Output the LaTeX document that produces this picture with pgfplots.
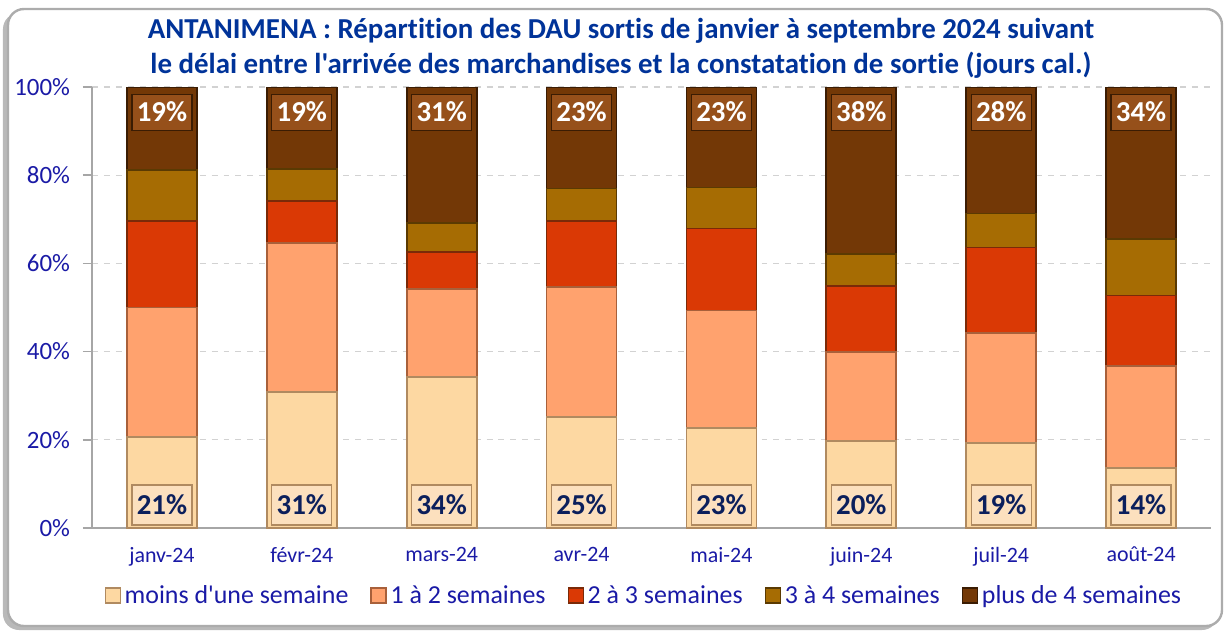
\documentclass[border=0pt]{standalone}
\usepackage{pgfplots}
\pgfplotsset{compat=1.18}
\usepackage{pgfplotstable}
\usepackage{fontspec}
\setmainfont{Carlito}[Ligatures={TeXOff,CommonOff}]
\definecolor{cA}{HTML}{FDD8A2}
\definecolor{cAd}{HTML}{B08A60}
\definecolor{cB}{HTML}{FFA26E}
\definecolor{cBd}{HTML}{A8603A}
\definecolor{cC}{HTML}{DA3905}
\definecolor{cCd}{HTML}{7A2A08}
\definecolor{cD}{HTML}{A66C03}
\definecolor{cDd}{HTML}{5A3A02}
\definecolor{cE}{HTML}{733806}
\definecolor{cEd}{HTML}{3A1C03}
\definecolor{titleblue}{HTML}{003399}
\definecolor{tickblue}{HTML}{1A1AA6}
\definecolor{navy}{HTML}{0B1F5C}
\definecolor{topbox}{HTML}{96501A}
\definecolor{botbox}{HTML}{FCE0BE}
\pgfplotstableread{
x  s1   s2   s3   s4   s5
0  20.6 29.4 19.7 11.4 18.9
1  30.9 33.7 9.6  7.2  18.6
2  34.2 20.0 8.4  6.5  30.9
3  25.1 29.5 15.1 7.3  23.0
4  22.6 26.7 18.6 9.3  22.8
5  19.8 20.2 14.8 7.3  37.9
6  19.3 24.9 19.4 7.7  28.7
7  13.6 23.2 15.9 12.8 34.5
}\datatable
\pgfplotstableread{
x  y    lab
0  94.3 19
1  94.3 19
2  94.3 31
3  94.3 23
4  94.3 23
5  94.3 38
6  94.3 28
7  94.3 34
}\toplabels
\pgfplotstableread{
x  y   lab
0  5.2 21
1  5.2 31
2  5.2 34
3  5.2 25
4  5.2 23
5  5.2 20
6  5.2 19
7  5.2 14
}\botlabels
\begin{document}
\begin{tikzpicture}[x=1bp,y=1bp]
\useasboundingbox (-46,-52.5) rectangle (568.5,264);
\fill[gray!55, rounded corners=8bp] (-44.5,-51) rectangle (563,257.5);
\filldraw[fill=white, draw=gray!65, line width=1.2bp, rounded corners=8bp] (-42,-49) rectangle (565,259.5);
\node[font=\fontsize{14.5}{17.5}\selectfont\bfseries, text=titleblue, align=center] at (264.5,240)
  {ANTANIMENA : Répartition des DAU sortis de janvier à septembre 2024 suivant\\le délai entre l'arrivée des marchandises et la constatation de sortie (jours cal.)};
\begin{axis}[
  at={(0,0)}, anchor=south west,
  scale only axis, width=559.5bp, height=220.5bp,
  ybar stacked, bar width=35bp,
  xmin=-0.5, xmax=7.5, ymin=0, ymax=100,
  axis lines*=left,
  axis line style={gray!70, line width=0.8bp},
  tick align=outside,
  major tick length=4.5bp,
  tick style={gray!70, line width=0.8bp},
  ytick={0,20,40,60,80,100},
  yticklabel={\pgfmathprintnumber[assume math mode=true]{\tick}\%},
  yticklabel style={font=\fontsize{12.5}{14}\selectfont, text=tickblue, xshift=-3bp},
  ymajorgrids,
  grid style={dashed, gray!35, line width=0.6bp},
  xtick={0,...,7},
  xticklabels={janv-24,févr-24,mars-24,avr-24,mai-24,juin-24,juil-24,août-24},
  xtick style={draw=none},
  xticklabel style={font=\fontsize{11}{13}\selectfont, text=tickblue, yshift=-1.5bp},
  extra x ticks={-0.5,0.5,...,7.5},
  extra x tick labels={},
  extra x tick style={tick style={gray!70, line width=0.8bp}, major tick length=4.5bp},
  legend columns=5,
  legend style={at={(0.494,-0.154)}, anchor=center, draw=none, fill=none,
    font=\fontsize{13}{15}\selectfont, text=tickblue,
    /tikz/every even column/.append style={column sep=9bp}},
  legend image code/.code={\filldraw[#1, line width=0.6bp] (0bp,-3.5bp) rectangle (7.5bp,4bp);},
]
\addplot[fill=cA, draw=cAd, line width=0.9bp] table[x=x, y=s1] {\datatable};
\addlegendentry{moins d'une semaine}
\addplot[fill=cB, draw=cBd, line width=0.9bp] table[x=x, y=s2] {\datatable};
\addlegendentry{1 à 2 semaines}
\addplot[fill=cC, draw=cCd, line width=0.9bp] table[x=x, y=s3] {\datatable};
\addlegendentry{2 à 3 semaines}
\addplot[fill=cD, draw=cDd, line width=0.9bp] table[x=x, y=s4] {\datatable};
\addlegendentry{3 à 4 semaines}
\addplot[fill=cE, draw=cEd, line width=0.9bp] table[x=x, y=s5] {\datatable};
\addlegendentry{plus de 4 semaines}
\end{axis}
\begin{axis}[
  at={(0,0)}, anchor=south west,
  scale only axis, width=559.5bp, height=220.5bp,
  xmin=-0.5, xmax=7.5, ymin=0, ymax=100,
  hide axis,
]
\addplot[draw=none, mark=none, point meta=explicit,
  nodes near coords={\pgfmathprintnumber[assume math mode=true]{\pgfplotspointmeta}\%},
  nodes near coords align=center,
  every node near coord/.append style={anchor=center, font=\fontsize{14.5}{16}\selectfont\bfseries, text=white,
    fill=topbox, draw=cEd, line width=0.6bp, minimum width=30bp, minimum height=18bp, inner sep=1bp}]
  table[x=x, y=y, meta=lab] {\toplabels};
\addplot[draw=none, mark=none, point meta=explicit,
  nodes near coords={\pgfmathprintnumber[assume math mode=true]{\pgfplotspointmeta}\%},
  nodes near coords align=center,
  every node near coord/.append style={anchor=center, font=\fontsize{14.5}{16}\selectfont\bfseries, text=navy,
    fill=botbox, draw=cAd, line width=0.6bp, minimum width=30bp, minimum height=20bp, inner sep=1bp}]
  table[x=x, y=y, meta=lab] {\botlabels};
\end{axis}
\end{tikzpicture}
\end{document}
